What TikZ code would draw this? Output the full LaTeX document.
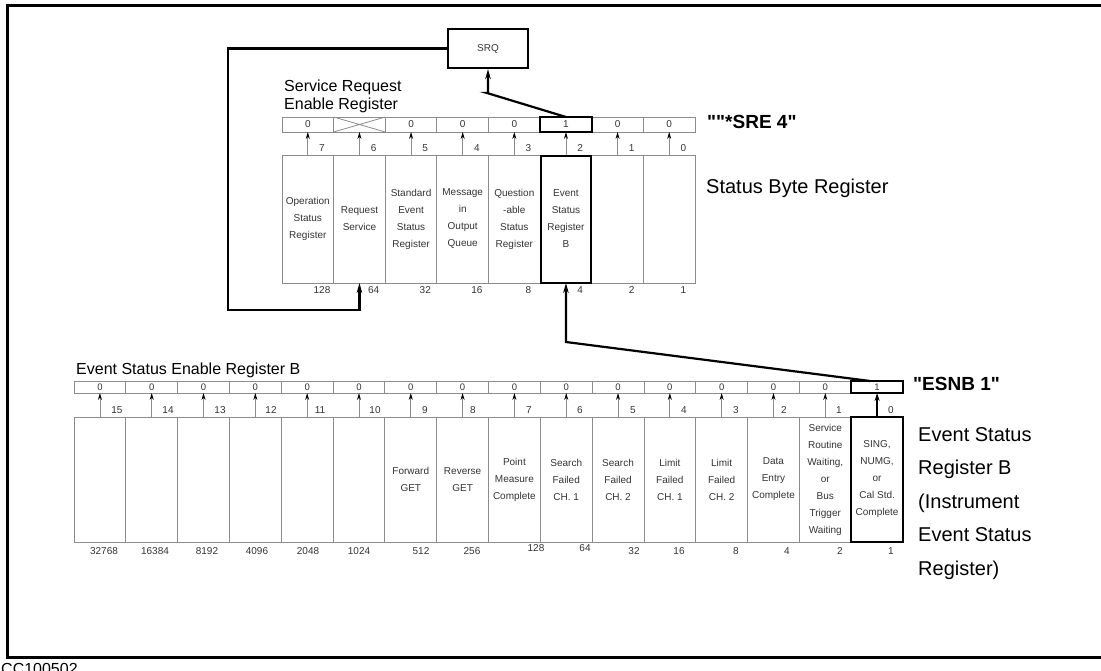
\documentclass[tikz,border=0pt]{standalone}
\usepackage{fontspec}
\setmainfont{Liberation Sans}
\newfontfamily\qfont{Liberation Sans}[Ligatures=TeXOff]
\usetikzlibrary{arrows.meta,calc}
\begin{document}
\begin{tikzpicture}[x=1pt,y=-1pt,
  cellbase/.style={draw=black!45, line width=0.8pt, inner sep=0pt, outer sep=0pt,
    align=center, text=black!80, font=\fontsize{10}{17}\selectfont},
  sbcell/.style={cellbase, minimum width=51.625pt, minimum height=128pt},
  srecell/.style={cellbase, minimum width=51.625pt, minimum height=15pt},
  esecell/.style={cellbase, minimum width=51.8125pt, minimum height=12pt, font=\fontsize{9.5}{10}\selectfont},
  esrcell/.style={cellbase, minimum width=51.8125pt, minimum height=125pt},
  thickbox/.style={draw=black, line width=2.2pt},
  smallarr/.style={draw=black!45, line width=0.8pt, -{Stealth[black,length=7pt,width=4pt]}},
  bigarr/.style={draw=black, line width=2.2pt, -{Stealth[length=10pt,width=5.5pt]}},
  bitlbl/.style={inner sep=0pt, text=black!80, font=\fontsize{10}{12}\selectfont},
  midlbl/.style={inner sep=0pt, anchor=west, align=left, font=\fontsize{16}{18}\selectfont},
  biglbl/.style={inner sep=0pt, anchor=west, align=left, font=\fontsize{20}{24}\selectfont},
  boldlbl/.style={inner sep=0pt, anchor=west, font=\qfont\fontsize{19}{22}\selectfont\bfseries}
]
\useasboundingbox (0,0) rectangle (1101,671);
% frame
\draw[line width=3pt] (7,6) rectangle (1120,657);
\node[inner sep=0pt, anchor=base west, font=\fontsize{16}{18}\selectfont] (cc) at (1,674) {CC100502};

% SRQ box
\node[thickbox, minimum width=80pt, minimum height=39pt, inner sep=0pt,
  font=\fontsize{10}{12}\selectfont, text=black!80] (srq) at (488,48.5) {SRQ};

% Status byte register and SRE register
\foreach \b/\val/\sv/\txt [count=\k from 0] in {
  7/128/0/{Operation\\Status\\Register},
  6/64//{Request\\Service},
  5/32/0/{Standard\\Event\\Status\\Register},
  4/16/0/{Message\\in\\Output\\Queue},
  3/8/0/{Question\\-able\\Status\\Register},
  2/4/1/{Event\\Status\\Register\\B},
  1/2/0/{},
  0/1/0/{}}{
  \pgfmathsetmacro\lx{282+\k*51.625}
  \node[sbcell] (sb\b) at (\lx+25.8125,219) {\txt};
  \node[srecell] (sre\b) at (\lx+25.8125,124.5) {\sv};
  \node[bitlbl] (sbl\b) at (\lx+40,148) {\b};
  \node[bitlbl] (sbv\b) at (\lx+40,290) {\val};
  \draw[smallarr] (sb\b.north) -- (sre\b.south);
}
\draw[black!45, line width=0.8pt] (sre6.north west) -- (sre6.south east)
  (sre6.south west) -- (sre6.north east);
\draw[thickbox] (sre2.north west) rectangle (sre2.south east);
\draw[thickbox] ($(sb2.north west)+(1,1)$) rectangle ($(sb2.south east)+(-1,0)$);

% ESE register and ESR B
\foreach \b/\lbx/\vx/\vy/\val/\txt [count=\k from 0] in {
  15/117/104/551/32768/{},
  14/168/155/551/16384/{},
  13/220/207/551/8192/{},
  12/271/257/551/4096/{},
  11/320/308/551/2048/{},
  10/375/359/551/1024/{},
  9/425/421/551/512/{Forward\\GET},
  8/473/472/551/256/{Reverse\\GET},
  7/529/536/548/128/{Point\\Measure\\Complete},
  6/580/585/548/64/{Search\\Failed\\CH. 1},
  5/633/634/551/32/{Search\\Failed\\CH. 2},
  4/684/679/551/16/{Limit\\Failed\\CH. 1},
  3/736/736/551/8/{Limit\\Failed\\CH. 2},
  2/784/787/551/4/{Data\\Entry\\Complete},
  1/839/840/551/2/{Service\\Routine\\Waiting,\\or\\Bus\\Trigger\\Waiting},
  0/891/891/551/1/{SING,\\NUMG,\\or\\Cal Std.\\Complete}}{
  \pgfmathsetmacro\lx{74+\k*51.8125}
  \node[esrcell] (esr\b) at (\lx+25.906,479.5) {\txt};
  \node[esecell] (ese\b) at (\lx+25.906,387) {\ifnum\b=0 1\else 0\fi};
  \node[bitlbl] (esl\b) at (\lbx,410) {\b};
  \node[bitlbl] (esv\b) at (\vx,\vy) {\val};
  \ifnum\b>0 \draw[smallarr] (esr\b.north) -- (ese\b.south); \fi
}
\draw[thickbox] (ese0.north west) rectangle (ese0.south east);
\draw[thickbox] (esr0.north west) rectangle (esr0.south east);
\draw[draw=black, line width=1.8pt, -{Stealth[length=8pt,width=5pt]}] (esr0.north) -- (ese0.south);

% labels
\node[midlbl] (srelbl) at (284,96) {Service Request\\Enable Register};
\node[boldlbl] (srecmd) at (707,122) {""*SRE 4"};
\node[biglbl] (sblbl) at (706,188) {Status Byte Register};
\node[midlbl] (eselbl) at (76,370) {Event Status Enable Register B};
\node[boldlbl] (esecmd) at (913,384) {"ESNB 1"};
\node[inner sep=0pt, anchor=north west, align=left, font=\fontsize{20}{33.5}\selectfont]
  (esrlbl) at (918,427) {Event Status\\Register B\\(Instrument\\Event Status\\Register)};

% big connectors
\coordinate (k1) at (487,93);
\draw[bigarr] (sre2.north) -- (k1) -- (srq.south |- k1) -- (srq.south);
\coordinate (c1) at (228,310);
\draw[bigarr] (srq.west) -| (c1) -| (sb6.south);
\coordinate (k2) at (568,342);
\draw[bigarr] ($(ese0.north)+(-7,0)$) -- (sb2.south |- k2) -- (sb2.south);
\end{tikzpicture}
\end{document}
